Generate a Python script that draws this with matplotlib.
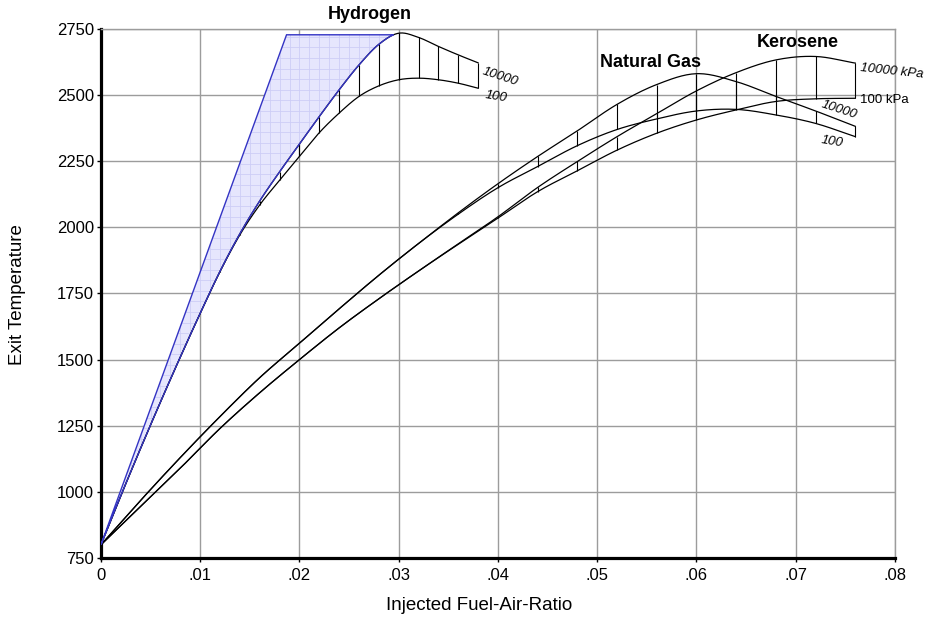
import numpy as np
import matplotlib.pyplot as plt
from matplotlib.patches import Polygon

plt.rcParams['font.family'] = ['Liberation Sans', 'DejaVu Sans']

# hydrogen, computed every 0.002 fuel-air ratio
H2_FAR = [0.000, 0.002, 0.004, 0.006, 0.008, 0.010, 0.012, 0.014, 0.016, 0.018,
          0.020, 0.022, 0.024, 0.026, 0.028, 0.030, 0.032, 0.034, 0.036, 0.038]
H2_T_100 = [800, 985, 1165, 1340, 1510, 1675, 1833, 1972, 2085, 2178,
            2268, 2358, 2432, 2495, 2535, 2558, 2564, 2558, 2545, 2526]
H2_T_10000 = [800, 985, 1165, 1340, 1510, 1675, 1834, 1976, 2100, 2210,
              2315, 2419, 2520, 2614, 2692, 2734, 2718, 2684, 2652, 2622]

# natural gas and kerosene, computed every 0.004 fuel-air ratio
FUEL_FAR = [0.000, 0.004, 0.008, 0.012, 0.016, 0.020, 0.024, 0.028, 0.032, 0.036,
            0.040, 0.044, 0.048, 0.052, 0.056, 0.060, 0.064, 0.068, 0.072, 0.076]
NG_T_100 = [800, 968, 1130, 1285, 1432, 1562, 1692, 1819, 1939, 2050,
            2150, 2230, 2309, 2370, 2410, 2440, 2446, 2425, 2393, 2343]
NG_T_10000 = [800, 968, 1130, 1285, 1432, 1562, 1692, 1819, 1939, 2055,
              2165, 2268, 2365, 2465, 2540, 2581, 2551, 2495, 2440, 2382]
KERO_T_100 = [800, 945, 1090, 1240, 1375, 1500, 1620, 1730, 1835, 1936,
              2035, 2135, 2214, 2292, 2356, 2406, 2444, 2476, 2486, 2488]
KERO_T_10000 = [800, 945, 1090, 1240, 1375, 1500, 1620, 1730, 1835, 1938,
                2040, 2151, 2249, 2343, 2430, 2516, 2585, 2633, 2646, 2621]

# hydrogen band: straight left edge up to a temperature cap
BAND_START = (0.0, 800)
BAND_CAP_T = 2728
BAND_CAP_FAR = 0.0187

X_TICKS = [0, 0.01, 0.02, 0.03, 0.04, 0.05, 0.06, 0.07, 0.08]
X_TICK_LABELS = ['0', '.01', '.02', '.03', '.04', '.05', '.06', '.07', '.08']
Y_TICKS = [750, 1000, 1250, 1500, 1750, 2000, 2250, 2500, 2750]


def smooth(x, y, n=16):
    # Catmull-Rom curve through every computed point
    p = np.column_stack([x, y]).astype(float)
    p = np.vstack([2 * p[0] - p[1], p, 2 * p[-1] - p[-2]])
    t = np.linspace(0, 1, n, endpoint=False)[:, None]
    out = []
    for i in range(1, len(p) - 2):
        p0, p1, p2, p3 = p[i - 1], p[i], p[i + 1], p[i + 2]
        seg = 0.5 * (2 * p1 + (-p0 + p2) * t
                     + (2 * p0 - 5 * p1 + 4 * p2 - p3) * t ** 2
                     + (-p0 + 3 * p1 - 3 * p2 + p3) * t ** 3)
        out.append(seg)
    out.append(p[-2][None, :])
    out = np.vstack(out)
    return out[:, 0], out[:, 1]


fig = plt.figure(figsize=(9.26, 6.23), dpi=100)
ax = fig.add_axes([0.109, 0.1043, 0.8575, 0.8492])
ax.set_xlim(0, 0.08)
ax.set_ylim(750, 2750)

ax.set_xticks(X_TICKS)
ax.set_xticklabels(X_TICK_LABELS)
ax.set_yticks(Y_TICKS)
ax.grid(True, color='#9c9c9c', linewidth=1.0)
ax.set_axisbelow(True)
ax.tick_params(direction='out', length=3, width=1, labelsize=12, pad=2)
ax.tick_params(axis='x', pad=4)
for side in ('left', 'bottom'):
    ax.spines[side].set_linewidth(2.3)
    ax.spines[side].set_color('black')
for side in ('top', 'right'):
    ax.spines[side].set_linewidth(1.0)
    ax.spines[side].set_color('#9c9c9c')

# hydrogen band, right edge follows the 10000 kPa curve
sx, sy = smooth(H2_FAR, H2_T_10000)
rising = np.arange(len(sx)) <= np.argmax(sy)
cap_far = np.interp(BAND_CAP_T, sy[rising], sx[rising])
inside = sx < cap_far
band = [BAND_START, (BAND_CAP_FAR, BAND_CAP_T), (cap_far, BAND_CAP_T)]
band += list(zip(sx[inside][::-1], sy[inside][::-1]))
poly = Polygon(band, closed=True, facecolor='#e6e6fd', edgecolor='none', zorder=2)
ax.add_patch(poly)
for gx in np.arange(0.001, 0.030, 0.001):
    ln = ax.axvline(gx, color='#cdcdf6', linewidth=0.6, zorder=2.1)
    ln.set_clip_path(poly)
for gy in np.arange(800, 2750, 40):
    ln = ax.axhline(gy, color='#cdcdf6', linewidth=0.6, zorder=2.1)
    ln.set_clip_path(poly)

# pressure bands for each fuel: 100 kPa and 10000 kPa curves joined by ticks
for far, lo, hi in [(H2_FAR, H2_T_100, H2_T_10000),
                    (FUEL_FAR, NG_T_100, NG_T_10000),
                    (FUEL_FAR, KERO_T_100, KERO_T_10000)]:
    ax.plot(*smooth(far, lo), color='black', linewidth=0.9, zorder=3)
    ax.plot(*smooth(far, hi), color='black', linewidth=0.9, zorder=3)
    ax.vlines(far, lo, hi, color='black', linewidth=0.8, zorder=3)

ax.add_patch(Polygon(band, closed=True, facecolor='none', edgecolor='#3434c4',
                     linewidth=1.0, zorder=4))

# fuel names
bold = dict(fontsize=13, fontweight='bold', ha='center', va='center')
ax.text(0.0271, 2803, 'Hydrogen', **bold)
ax.text(0.0554, 2625, 'Natural Gas', **bold)
ax.text(0.0702, 2697, 'Kerosene', **bold)

# pressure labels at the curve ends
lab = dict(fontsize=9.5, ha='left', va='center', rotation_mode='anchor')
ax.text(0.0385, 2590, '10000', style='italic', rotation=-18, **lab)
ax.text(0.0387, 2500, '100', style='italic', rotation=-9, **lab)
ax.text(0.0726, 2466, '10000', style='italic', rotation=-18, **lab)
ax.text(0.0726, 2330, '100', style='italic', rotation=-9, **lab)
ax.text(0.0765, 2602, '10000 kPa', style='italic', rotation=-6, **lab)
ax.text(0.0765, 2481, '100 kPa', **lab)

fig.text(0.0184, 0.527, 'Exit Temperature', rotation=90, ha='center', va='center',
         fontsize=13.5)
fig.text(0.517, 0.0273, 'Injected Fuel-Air-Ratio', ha='center', va='center',
         fontsize=13.5)

fig.savefig('out.png', dpi=100)
